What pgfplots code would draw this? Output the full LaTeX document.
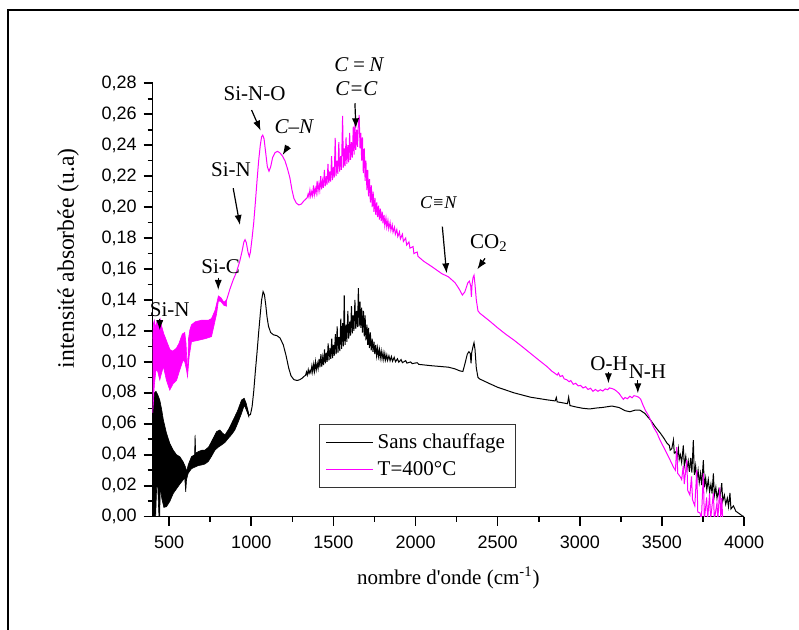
\documentclass[border=0pt]{standalone}
\usepackage{fontspec}
\setmainfont{Liberation Serif}
\setsansfont{Liberation Sans}
\usepackage{pgfplots}
\pgfplotsset{compat=1.18}
\usepackage{pgfplotstable}
\usetikzlibrary{arrows.meta}
\definecolor{mag}{RGB}{255,0,255}

% dense noisy part of the untreated sample (upper edge, then lower edge back)
\pgfplotstableread{
x y
400 0.078
410 0.080
420 0.081
430 0.079
443 0.0754
455 0.069
465 0.0625
484 0.054
504 0.0474
525 0.043
545 0.040
565 0.0388
585 0.0355
600 0.032
606 0.029
616 0.0334
636 0.0388
655 0.040
658 0.0528
662 0.041
677 0.042
700 0.043
718 0.043
740 0.045
758 0.0485
789 0.055
809 0.056
825 0.054
840 0.0528
865 0.057
890 0.0625
915 0.068
941 0.0754
957 0.0765
970 0.073
985 0.066
985 0.0646
970 0.069
957 0.072
941 0.0668
920 0.061
900 0.056
880 0.053
860 0.0506
840 0.048
819 0.0463
800 0.045
779 0.043
758 0.039
738 0.0356
717 0.034
697 0.0334
677 0.033
656 0.032
636 0.031
616 0.028
606 0.024
601 0.016
595 0.025
585 0.0237
565 0.021
545 0.018
525 0.015
505 0.010
484 0.0065
468 0.006
455 0.012
446 0.020
443 0.000
438 0.000
430 0.021
424 0.019
418 0.000
400 0.000
}\blackband

\pgfplotstableread{
x y
975 0.0700
985 0.0655
995 0.0660
1005 0.0710
1015 0.0810
1025 0.0940
1035 0.1060
1045 0.1190
1055 0.1310
1063 0.1400
1072 0.1454
1080 0.1435
1088 0.1370
1096 0.1290
1105 0.1230
1118 0.1190
1135 0.1175
1155 0.1170
1175 0.1155
1195 0.1110
1212 0.1040
1228 0.0960
1242 0.0910
1260 0.0885
1280 0.0880
1295 0.0885
1310 0.0895
1325 0.0910
1330 0.0912
1336 0.0935
1341 0.0915
1347 0.0950
1352 0.0925
1358 0.0945
1363 0.0930
1369 0.0975
1374 0.0935
1380 0.0985
1385 0.0940
1391 0.1000
1396 0.0950
1402 0.0990
1407 0.0958
1413 0.1020
1418 0.0965
1424 0.1050
1429 0.0970
1435 0.1030
1440 0.0980
1446 0.1080
1451 0.0990
1457 0.1060
1462 0.1000
1468 0.1120
1473 0.1010
1479 0.1090
1484 0.1020
1490 0.1150
1495 0.1025
1501 0.1110
1506 0.1040
1512 0.1180
1517 0.1050
1523 0.1230
1528 0.1060
1534 0.1160
1539 0.1070
1545 0.1280
1550 0.1085
1556 0.1250
1561 0.1100
1566 0.1430
1571 0.1110
1577 0.1240
1582 0.1130
1588 0.1330
1593 0.1150
1599 0.1260
1604 0.1170
1610 0.1360
1615 0.1185
1620 0.1300
1625 0.1200
1631 0.1400
1636 0.1215
1642 0.1330
1647 0.1225
1652 0.1477
1657 0.1230
1662 0.1390
1667 0.1220
1672 0.1350
1677 0.1190
1683 0.1330
1688 0.1165
1693 0.1300
1698 0.1140
1704 0.1240
1709 0.1110
1714 0.1220
1719 0.1090
1725 0.1190
1730 0.1075
1736 0.1150
1741 0.1065
1747 0.1130
1752 0.1050
1758 0.1110
1763 0.1040
1769 0.1090
1774 0.1035
1780 0.1080
1785 0.1025
1791 0.1070
1796 0.1020
1802 0.1060
1807 0.1015
1813 0.1055
1818 0.1012
1825 0.1045
1830 0.1010
1838 0.1040
1845 0.1007
1853 0.1035
1860 0.1004
1870 0.1030
1878 0.1001
1890 0.1020
1898 0.0998
1912 0.1015
1920 0.0995
1940 0.1008
1948 0.0992
1970 0.1000
1980 0.0989
2010 0.0995
2020 0.0984
2100 0.0975
2200 0.0966
2240 0.0955
2270 0.0942
2288 0.0938
2300 0.0985
2315 0.1050
2325 0.1066
2333 0.1055
2338 0.0990
2342 0.1060
2350 0.1100
2356 0.1124
2362 0.1080
2370 0.0960
2380 0.0900
2390 0.0890
2450 0.0860
2500 0.0836
2600 0.0800
2700 0.0772
2800 0.0755
2850 0.0748
2857 0.0770
2862 0.0742
2925 0.0730
2932 0.0772
2940 0.0718
2980 0.0708
3020 0.0700
3060 0.0696
3100 0.0702
3140 0.0706
3195 0.0715
3240 0.0705
3275 0.0685
3305 0.0678
3335 0.0688
3365 0.0689
3395 0.0668
3430 0.0625
3460 0.0580
3490 0.0540
3510 0.0510
3530 0.0476
3545 0.0460
3550 0.0430
3560 0.0440
3570 0.0495
3575 0.0410
3585 0.0420
3592 0.0380
3600 0.0440
3605 0.0370
3612 0.0400
3620 0.0350
3630 0.0460
3636 0.0330
3645 0.0390
3652 0.0310
3660 0.0360
3667 0.0290
3675 0.0380
3682 0.0285
3691 0.0495
3697 0.0270
3705 0.0330
3712 0.0240
3720 0.0300
3727 0.0220
3735 0.0280
3742 0.0205
3752 0.0366
3758 0.0190
3766 0.0250
3773 0.0175
3782 0.0240
3790 0.0160
3798 0.0210
3805 0.0150
3813 0.0280
3819 0.0135
3828 0.0190
3835 0.0120
3845 0.0170
3852 0.0110
3864 0.0217
3870 0.0100
3880 0.0140
3888 0.0080
3898 0.0120
3905 0.0065
3914 0.0153
3920 0.0050
3935 0.0070
3950 0.0035
3970 0.0020
3990 0.0005
4000 0.0000
}\blackline

% dense noisy part of the 400 C sample (upper edge, then lower edge back)
\pgfplotstableread{
x y
400 0.115
405 0.125
410 0.127
418 0.122
425 0.126
432 0.124
440 0.127
445 0.128
452 0.124
460 0.121
468 0.118
478 0.1154
490 0.112
505 0.108
520 0.107
535 0.108
545 0.109
560 0.112
580 0.118
595 0.119
603 0.112
608 0.100
612 0.0905
618 0.115
626 0.1206
636 0.124
660 0.126
700 0.127
740 0.127
758 0.128
780 0.1335
800 0.1426
815 0.1415
834 0.1385
850 0.140
850 0.136
834 0.1365
815 0.139
800 0.1395
789 0.131
770 0.122
758 0.1163
720 0.115
680 0.114
636 0.113
622 0.1034
612 0.0905
606 0.0948
595 0.100
585 0.1012
565 0.0948
545 0.088
525 0.086
504 0.0818
484 0.088
465 0.097
452 0.092
443 0.0883
430 0.094
420 0.0948
410 0.085
405 0.075
400 0.067
}\magband

\pgfplotstableread{
x y
840 0.1385
850 0.1400
870 0.1470
890 0.1530
910 0.1580
930 0.1650
945 0.1720
955 0.1775
962 0.1790
970 0.1770
980 0.1710
988 0.1680
995 0.1710
1005 0.1800
1015 0.1900
1025 0.2030
1035 0.2170
1045 0.2300
1055 0.2400
1063 0.2455
1070 0.2465
1078 0.2440
1088 0.2350
1098 0.2260
1108 0.2232
1118 0.2260
1130 0.2320
1145 0.2352
1160 0.2360
1175 0.2350
1190 0.2330
1205 0.2300
1220 0.2250
1235 0.2190
1248 0.2110
1260 0.2055
1275 0.2025
1290 0.2014
1305 0.2020
1320 0.2040
1335 0.2055
1340 0.2060
1346 0.2085
1351 0.2065
1357 0.2110
1362 0.2070
1368 0.2100
1373 0.2075
1379 0.2140
1384 0.2080
1390 0.2120
1395 0.2090
1401 0.2170
1406 0.2100
1412 0.2150
1417 0.2110
1423 0.2200
1428 0.2115
1434 0.2170
1439 0.2125
1445 0.2240
1450 0.2135
1456 0.2200
1461 0.2145
1467 0.2280
1472 0.2155
1478 0.2230
1483 0.2165
1489 0.2330
1494 0.2175
1500 0.2260
1505 0.2190
1511 0.2447
1516 0.2200
1522 0.2300
1527 0.2215
1533 0.2420
1538 0.2230
1544 0.2330
1549 0.2240
1556 0.2589
1561 0.2255
1566 0.2380
1571 0.2265
1577 0.2450
1582 0.2280
1588 0.2400
1593 0.2290
1599 0.2480
1604 0.2305
1610 0.2420
1615 0.2320
1621 0.2520
1626 0.2340
1631 0.2560
1636 0.2370
1642 0.2500
1647 0.2390
1652 0.2540
1657 0.2595
1662 0.2380
1667 0.2480
1672 0.2300
1677 0.2450
1682 0.2220
1688 0.2380
1693 0.2170
1698 0.2300
1704 0.2110
1709 0.2240
1714 0.2070
1720 0.2180
1725 0.2030
1731 0.2140
1736 0.2000
1742 0.2100
1747 0.1970
1753 0.2060
1758 0.1950
1764 0.2030
1769 0.1935
1775 0.2010
1780 0.1920
1786 0.1990
1791 0.1910
1797 0.1970
1802 0.1895
1808 0.1950
1813 0.1880
1820 0.1930
1825 0.1870
1832 0.1915
1837 0.1860
1845 0.1900
1850 0.1850
1858 0.1885
1863 0.1838
1872 0.1870
1877 0.1825
1886 0.1855
1892 0.1810
1902 0.1840
1908 0.1795
1920 0.1825
1926 0.1778
1940 0.1800
1946 0.1755
1960 0.1775
1966 0.1735
1985 0.1745
1990 0.1700
2010 0.1710
2015 0.1682
2050 0.1650
2100 0.1615
2160 0.1570
2200 0.1550
2240 0.1512
2265 0.1472
2285 0.1432
2300 0.1452
2318 0.1510
2328 0.1522
2336 0.1490
2340 0.1420
2344 0.1500
2350 0.1545
2356 0.1560
2362 0.1500
2370 0.1400
2380 0.1330
2392 0.1314
2450 0.1265
2500 0.1220
2550 0.1178
2600 0.1140
2650 0.1098
2700 0.1055
2750 0.1012
2800 0.0970
2830 0.0940
2850 0.0925
2862 0.0915
2870 0.0928
2880 0.0905
2895 0.0912
2905 0.0890
2920 0.0885
2935 0.0872
2945 0.0880
2960 0.0855
2975 0.0862
2990 0.0845
3005 0.0848
3020 0.0832
3035 0.0840
3050 0.0822
3065 0.0830
3080 0.0810
3095 0.0822
3110 0.0810
3125 0.0820
3140 0.0812
3155 0.0826
3170 0.0820
3180 0.0832
3195 0.0828
3210 0.0822
3225 0.0810
3240 0.0795
3255 0.0772
3265 0.0758
3275 0.0770
3290 0.0762
3305 0.0778
3318 0.0768
3330 0.0782
3345 0.0778
3358 0.0772
3370 0.0760
3385 0.0720
3400 0.0685
3420 0.0650
3448 0.0580
3470 0.0540
3488 0.0495
3510 0.0450
3529 0.0410
3550 0.0365
3570 0.0320
3582 0.0300
3590 0.0450
3596 0.0280
3610 0.0260
3620 0.0240
3630 0.0330
3636 0.0210
3651 0.0366
3657 0.0170
3670 0.0140
3680 0.0260
3686 0.0110
3700 0.0070
3712 0.0300
3718 0.0030
3732 0.0024
3740 -0.0020
3752 0.0280
3758 -0.0020
3772 0.0125
3778 -0.0020
3790 0.0150
3796 -0.0020
3813 0.0153
3819 -0.0020
3835 0.0090
3840 -0.0020
3852 0.0190
3858 -0.0020
3864 0.0120
3870 -0.0020
}\magline

\begin{document}
\begin{tikzpicture}[
    ann/.style={font=\fontsize{10.5}{12}\selectfont, anchor=base, inner sep=0pt},
    arr/.style={-{Latex[length=5pt,width=3.6pt]}, line width=0.6pt, black},
]
\useasboundingbox (-76.35pt,-56.65pt) rectangle (323.15pt,258.35pt);
\draw[line width=1pt] (-72.35pt,-70pt) -- (-72.35pt,253.35pt) -- (340pt,253.35pt);
\begin{axis}[
    at={(0pt,0pt)}, anchor=south west,
    scale only axis, width=295.7pt, height=216.7pt,
    xmin=400, xmax=4000, ymin=0, ymax=0.28,
    clip mode=individual,
    axis x line*=bottom, axis y line*=left,
    axis line style={line width=0.8pt},
    tick align=outside,
    major tick length=4.5pt, minor tick length=2.5pt,
    every tick/.style={black, line width=0.8pt},
    xtick={500,1000,1500,2000,2500,3000,3500,4000},
    minor xtick={750,1250,1750,2250,2750,3250,3750},
    ytick={0,0.02,0.04,0.06,0.08,0.10,0.12,0.14,0.16,0.18,0.20,0.22,0.24,0.26,0.28},
    minor ytick={0.01,0.03,0.05,0.07,0.09,0.11,0.13,0.15,0.17,0.19,0.21,0.23,0.25,0.27},
    ticklabel style={font=\sffamily\fontsize{9}{11}\selectfont},
    xticklabel style={yshift=-1.5pt, /pgf/number format/.cd, 1000 sep={}, assume math mode=true},
    yticklabel style={/pgf/number format/.cd, fixed, fixed zerofill, precision=2, use comma, assume math mode=true},
    legend style={at={(axis description cs:0.2812,0.2139)}, anchor=north west,
        draw=black!80, line width=0.5pt, font=\fontsize{10.5}{12}\selectfont,
        inner xsep=3pt, inner ysep=2.5pt, row sep=1pt},
    legend cell align=left,
    legend image code/.code={\draw[#1, line width=0.6pt] (0pt,0pt) -- (23.5pt,0pt);},
]
\addplot[fill=black, draw=black, line width=0.3pt, forget plot] table {\blackband};
\addplot[black, line width=0.5pt] table {\blackline};
\addlegendentry{Sans chauffage}
\addplot[fill=mag, draw=mag, line width=0.3pt, forget plot] table {\magband};
\addplot[mag, line width=0.5pt] table {\magline};
\addlegendentry{T=400°C}

\node[ann] at (axis cs:504,0.1292) {Si-N};
\draw[arr] (axis cs:443,0.1280) -- (axis cs:443,0.1205);
\node[ann] at (axis cs:814,0.1574) {Si-C};
\draw[arr] (axis cs:799,0.1545) -- (axis cs:799,0.1465);
\node[ann] at (axis cs:877,0.2201) {Si-N};
\draw[arr] (axis cs:890,0.2122) -- (axis cs:931,0.1884);
\node[ann] at (axis cs:1020,0.2692) {Si-N-O};
\draw[arr] (axis cs:1002,0.2627) -- (axis cs:1057,0.2494);
\node[ann] at (axis cs:1259,0.2477) {\itshape C–N};
\draw[arr] (axis cs:1225,0.2395) -- (axis cs:1191,0.2337);
\node[ann] at (axis cs:1655,0.2879) {\itshape C\,=\,N};
\node[ann] at (axis cs:1640,0.2724) {\itshape C=C};
\draw[arr] (axis cs:1631,0.2671) -- (axis cs:1637,0.2509);
\node[ann, font=\fontsize{9}{11}\selectfont] at (axis cs:2138,0.1992) {\itshape C≡N};
\draw[arr] (axis cs:2163,0.1874) -- (axis cs:2189,0.1572);
\node[ann] at (axis cs:2447,0.1734) {CO\textsubscript{2}};
\draw[arr] (axis cs:2423,0.1669) -- (axis cs:2376,0.1598);
\node[ann] at (axis cs:3178,0.0943) {O-H};
\draw[arr] (axis cs:3174,0.0937) -- (axis cs:3174,0.0862);
\node[ann] at (axis cs:3412,0.0894) {N-H};
\draw[arr] (axis cs:3353,0.0883) -- (axis cs:3353,0.0797);

\node[rotate=90, font=\fontsize{11.8}{14}\selectfont] at (rel axis cs:-0.143,0.596) {intensité absorbée (u.a)};
\node[font=\fontsize{10.5}{12}\selectfont] at (rel axis cs:0.5,-0.1414) {nombre d\textquotesingle onde (cm\textsuperscript{-1})};
\end{axis}
\end{tikzpicture}
\end{document}
